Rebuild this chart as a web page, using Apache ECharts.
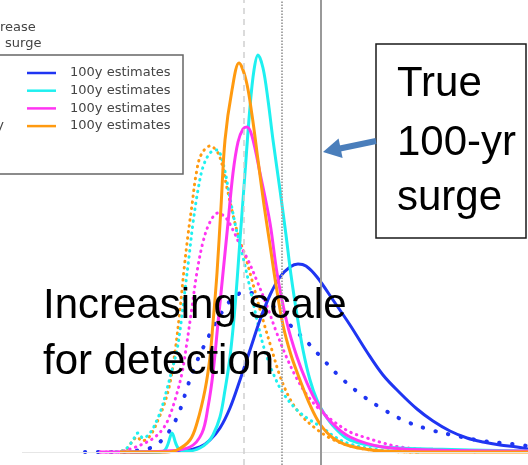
<!DOCTYPE html>
<html>
<head>
<meta charset="utf-8">
<script src="https://cdn.jsdelivr.net/npm/echarts@6/dist/echarts.min.js"></script>
<style>
  html, body { margin: 0; padding: 0; background: #fff; }
  #chart { width: 528px; height: 465px; }
</style>
</head>
<body>
<div id="chart"></div>
<script>
// Density of estimated 100-year surge (x: surge height in m, y: density)
// Solid curves: full-record estimates; dotted curves: reduced-record estimates.
const blueSolid = [[1.30,0],[1.83,0.01],[2.00,0.05],[2.10,0.12],[2.20,0.24],[2.30,0.44],[2.40,0.72],[2.50,1.02],[2.60,1.32],[2.70,1.57],[2.80,1.75],[2.90,1.85],[2.98,1.88],[3.06,1.86],[3.17,1.75],[3.33,1.52],[3.50,1.27],[3.67,1.00],[3.83,0.77],[4.00,0.59],[4.17,0.43],[4.33,0.31],[4.50,0.21],[4.67,0.14],[4.83,0.10],[5.00,0.07],[5.17,0.05],[5.28,0.03]];
const cyanSolid = [[1.20,0],[1.60,0],[1.65,0.02],[1.68,0.08],[1.72,0.19],[1.76,0.08],[1.80,0.02],[1.90,0.01],[2.00,0.04],[2.07,0.09],[2.13,0.17],[2.20,0.35],[2.25,0.62],[2.30,0.95],[2.35,1.45],[2.40,2.12],[2.45,2.79],[2.50,3.45],[2.54,3.82],[2.58,3.97],[2.63,3.84],[2.68,3.52],[2.73,3.12],[2.80,2.62],[2.86,2.17],[2.91,1.77],[2.97,1.37],[3.03,1.02],[3.10,0.72],[3.17,0.52],[3.25,0.37],[3.35,0.24],[3.50,0.12],[3.83,0.05],[4.33,0.03],[5.28,0.01]];
const magentaSolid = [[1.00,0],[1.23,0],[1.67,0.01],[1.90,0.05],[2.02,0.19],[2.08,0.45],[2.13,0.79],[2.18,1.29],[2.23,1.79],[2.28,2.29],[2.33,2.79],[2.38,3.10],[2.43,3.23],[2.47,3.25],[2.52,3.16],[2.60,2.79],[2.70,2.29],[2.77,1.79],[2.87,1.29],[2.97,0.95],[3.07,0.69],[3.17,0.49],[3.30,0.31],[3.50,0.15],[3.83,0.05],[4.33,0.02],[5.28,0.01]];
const orangeSolid = [[1.20,0],[1.65,0],[1.77,0.02],[1.90,0.12],[1.97,0.29],[2.05,0.62],[2.10,0.95],[2.13,1.29],[2.17,1.79],[2.21,2.45],[2.25,3.12],[2.32,3.62],[2.39,3.89],[2.46,3.72],[2.52,3.37],[2.58,2.92],[2.64,2.47],[2.70,2.07],[2.76,1.67],[2.83,1.27],[2.91,0.97],[3.00,0.72],[3.10,0.47],[3.20,0.28],[3.33,0.14],[3.50,0.06],[3.83,0.01],[4.40,0],[5.28,0]];

const blueDotted = [[0.85,0],[1.28,0],[1.40,0.02],[1.53,0.05],[1.63,0.13],[1.72,0.25],[1.80,0.42],[1.88,0.67],[1.95,0.86],[2.03,1.04],[2.13,1.24],[2.22,1.40],[2.32,1.53],[2.42,1.59],[2.52,1.59],[2.62,1.55],[2.72,1.47],[2.82,1.36],[2.92,1.25],[3.10,1.07],[3.20,0.96],[3.38,0.77],[3.59,0.59],[3.81,0.44],[4.05,0.31],[4.31,0.22],[4.57,0.16],[4.83,0.11],[5.12,0.08],[5.28,0.06]];
const cyanDotted = [[1.10,0],[1.22,0.01],[1.28,0.05],[1.33,0.12],[1.38,0.19],[1.43,0.14],[1.50,0.19],[1.57,0.32],[1.62,0.45],[1.67,0.63],[1.72,0.82],[1.77,1.02],[1.81,1.29],[1.85,1.62],[1.89,1.95],[1.93,2.29],[1.98,2.62],[2.03,2.85],[2.10,2.99],[2.17,3.02],[2.23,2.89],[2.30,2.54],[2.36,2.24],[2.43,1.95],[2.50,1.64],[2.57,1.32],[2.64,1.04],[2.73,0.79],[2.83,0.59],[2.97,0.42],[3.10,0.32],[3.23,0.24],[3.35,0.15],[3.50,0.08],[3.80,0.02],[4.20,0]];
const magentaDotted = [[1.00,0],[1.17,0],[1.33,0.04],[1.47,0.10],[1.55,0.15],[1.62,0.22],[1.68,0.32],[1.75,0.52],[1.82,0.79],[1.87,1.10],[1.92,1.45],[1.97,1.80],[2.03,2.10],[2.10,2.30],[2.18,2.39],[2.26,2.34],[2.33,2.22],[2.40,2.07],[2.48,1.92],[2.57,1.71],[2.67,1.46],[2.76,1.21],[2.86,0.96],[2.96,0.75],[3.07,0.57],[3.20,0.42],[3.33,0.31],[3.50,0.20],[3.67,0.14],[3.83,0.09],[4.00,0.05],[4.33,0.02],[4.80,0]];
const orangeDotted = [[1.10,0],[1.25,0.02],[1.32,0.10],[1.37,0.15],[1.42,0.11],[1.48,0.14],[1.53,0.21],[1.58,0.32],[1.64,0.47],[1.70,0.69],[1.75,1.00],[1.80,1.42],[1.84,1.82],[1.88,2.17],[1.92,2.47],[1.96,2.77],[2.01,2.97],[2.10,3.06],[2.19,2.97],[2.27,2.64],[2.33,2.37],[2.39,2.14],[2.45,1.97],[2.50,1.79],[2.56,1.57],[2.63,1.32],[2.71,1.05],[2.80,0.76],[2.90,0.53],[3.01,0.37],[3.15,0.24],[3.30,0.14],[3.50,0.06],[3.80,0.01],[4.20,0]];

// Reference surge levels (m)
const meanEstimate = 2.44;
const medianEstimate = 2.82;
const true100yr = 3.21;

const legendLabels = ['100y estimates', '100y estimates', '100y estimates', '100y estimates'];

const COLORS = { blue: '#1f35f2', cyan: '#1ff0f0', magenta: '#ff35f2', orange: '#ff9a10' };

function curve(name, data, color, dotted, big) {
  return {
    name, type: 'line', data, smooth: 0.35, symbol: 'none', clip: false, silent: true,
    lineStyle: dotted
      ? { color, width: big ? 4 : 3, type: big ? [0.5, 12.5] : [0.5, 5.5], cap: 'round' }
      : { color, width: 3 }
  };
}

const series = [
  curve('blue-dotted', blueDotted, COLORS.blue, true, true),
  curve('orange-dotted', orangeDotted, COLORS.orange, true),
  curve('cyan-dotted', cyanDotted, COLORS.cyan, true),
  curve('magenta-dotted', magentaDotted, COLORS.magenta, true),
  curve('blue', blueSolid, COLORS.blue, false),
  curve('cyan', cyanSolid, COLORS.cyan, false),
  curve('magenta', magentaSolid, COLORS.magenta, false),
  curve('orange', orangeSolid, COLORS.orange, false)
];

// Baseline and vertical reference lines
series.unshift({
  type: 'line', data: [], silent: true,
  markLine: {
    symbol: 'none', silent: true, label: { show: false },
    data: [
      [{ coord: [0.22, 0], lineStyle: { color: '#e6e6e6', width: 1, type: 'solid' } }, { coord: [5.28, 0] }],
      { xAxis: meanEstimate, lineStyle: { color: '#cfcfcf', width: 1.5, type: [6, 5] } },
      { xAxis: medianEstimate, lineStyle: { color: '#a8a8a8', width: 2, type: [1.5, 1.5] } },
      { xAxis: true100yr, lineStyle: { color: '#999999', width: 2, type: 'solid' } }
    ]
  }
});

const legendColors = [COLORS.blue, COLORS.cyan, COLORS.magenta, COLORS.orange];
const legendFont = '13px "DejaVu Sans"';
const graphic = [
  { type: 'text', x: 0, y: 28, style: { text: 'rease', font: legendFont, fill: '#444', align: 'left', verticalAlign: 'middle' } },
  { type: 'text', x: 5, y: 44, style: { text: 'surge', font: legendFont, fill: '#444', align: 'left', verticalAlign: 'middle' } },
  { type: 'rect', shape: { x: -20, y: 55, width: 203, height: 119 }, style: { fill: '#fff', stroke: '#666', lineWidth: 1.5 } },
  { type: 'text', x: 4, y: 126, style: { text: 'y', font: legendFont, fill: '#444', align: 'right', verticalAlign: 'middle' } }
];
legendLabels.forEach((label, i) => {
  const y = 73 + i * 17.7;
  graphic.push({ type: 'line', shape: { x1: 27, y1: y, x2: 56, y2: y }, style: { stroke: legendColors[i], lineWidth: 2.5 } });
  graphic.push({ type: 'text', x: 70, y: y, style: { text: label, font: legendFont, fill: '#444', align: 'left', verticalAlign: 'middle' } });
});

// Callout box with arrow
const bigFont = '42px "Liberation Sans"';
graphic.push(
  { type: 'rect', shape: { x: 376, y: 44, width: 150, height: 194 }, style: { fill: '#fff', stroke: '#1a1a1a', lineWidth: 1.5 } },
  { type: 'text', x: 397, y: 84, style: { text: 'True', font: bigFont, fill: '#000', align: 'left', verticalAlign: 'middle' } },
  { type: 'text', x: 397, y: 143, style: { text: '100-yr', font: bigFont, fill: '#000', align: 'left', verticalAlign: 'middle' } },
  { type: 'text', x: 397, y: 198, style: { text: 'surge', font: bigFont, fill: '#000', align: 'left', verticalAlign: 'middle' } },
  { type: 'line', shape: { x1: 376, y1: 141, x2: 340, y2: 148.5 }, style: { stroke: '#4a7ebb', lineWidth: 6 } },
  { type: 'polygon', shape: { points: [[323, 152], [338.6, 138.5], [342.6, 158.1]] }, style: { fill: '#4a7ebb' } },
  { type: 'text', x: 43, y: 306, z: 100, style: { text: 'Increasing scale', font: bigFont, fill: '#000', align: 'left', verticalAlign: 'middle' } },
  { type: 'text', x: 43, y: 362, z: 100, style: { text: 'for detection', font: bigFont, fill: '#000', align: 'left', verticalAlign: 'middle' } }
);

const chart = echarts.init(document.getElementById('chart'), null, { renderer: 'canvas' });
chart.setOption({
  animation: false,
  backgroundColor: '#fff',
  grid: { left: 0, right: 0, top: 0, bottom: 0 },
  xAxis: { type: 'value', min: 0, max: 5.28, show: false },
  yAxis: { type: 'value', min: -0.13, max: 4.52, show: false },
  series,
  graphic
});
</script>
</body>
</html>
